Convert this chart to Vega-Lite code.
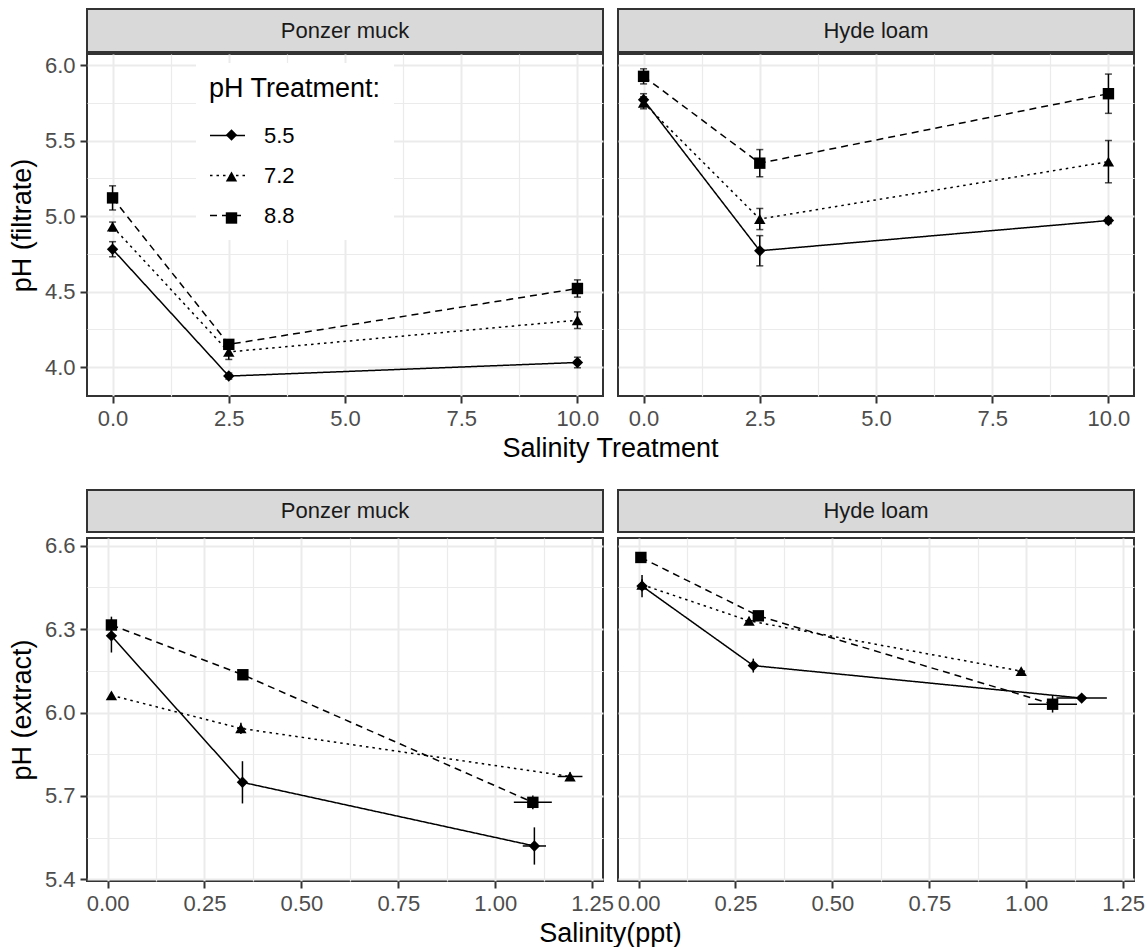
{
  "$schema": "https://vega.github.io/schema/vega-lite/v6.json",
  "autosize": {"type": "pad"},
  "padding": {"left": 7, "top": 8, "right": 5, "bottom": 5},
  "background": "white",
  "config": {
    "font": "Liberation Sans",
    "view": {"stroke": "#333333", "strokeWidth": 2},
    "axis": {
      "gridColor": "#ebebeb",
      "tickColor": "#333333",
      "tickWidth": 2,
      "tickSize": 7,
      "labelColor": "#4d4d4d",
      "labelFontSize": 22,
      "labelFont": "Liberation Sans",
      "labelPadding": 5,
      "labelFlush": false,
      "labelOverlap": false,
      "labelBound": false,
      "titleFont": "Liberation Sans",
      "titleFontSize": 27,
      "titleFontWeight": "normal",
      "titleColor": "black",
      "domain": false
    },
    "legend": {
      "orient": "none", "padding": 13,
      "titleFontSize": 27, "titleFontWeight": "normal", "titleFont": "Liberation Sans", "titlePadding": 14,
      "labelFontSize": 22, "labelFont": "Liberation Sans", "labelOffset": 18
    }
  },
  "datasets": {
    "strip": [{"soil": "Ponzer muck"}, {"soil": "Hyde loam"}],
    "top": [
      {"soil": "Ponzer muck", "pH": "5.5", "x": 0, "y": 4.78, "ylo": 4.73, "yhi": 4.83},
      {"soil": "Ponzer muck", "pH": "5.5", "x": 2.5, "y": 3.94, "ylo": 3.92, "yhi": 3.96},
      {"soil": "Ponzer muck", "pH": "5.5", "x": 10, "y": 4.03, "ylo": 3.995, "yhi": 4.065},
      {"soil": "Ponzer muck", "pH": "7.2", "x": 0, "y": 4.93, "ylo": 4.9, "yhi": 4.96},
      {"soil": "Ponzer muck", "pH": "7.2", "x": 2.5, "y": 4.1, "ylo": 4.05, "yhi": 4.15},
      {"soil": "Ponzer muck", "pH": "7.2", "x": 10, "y": 4.31, "ylo": 4.255, "yhi": 4.365},
      {"soil": "Ponzer muck", "pH": "8.8", "x": 0, "y": 5.12, "ylo": 5.04, "yhi": 5.2},
      {"soil": "Ponzer muck", "pH": "8.8", "x": 2.5, "y": 4.15, "ylo": 4.12, "yhi": 4.18},
      {"soil": "Ponzer muck", "pH": "8.8", "x": 10, "y": 4.52, "ylo": 4.463, "yhi": 4.577},
      {"soil": "Hyde loam", "pH": "5.5", "x": 0, "y": 5.77, "ylo": 5.73, "yhi": 5.81},
      {"soil": "Hyde loam", "pH": "5.5", "x": 2.5, "y": 4.77, "ylo": 4.67, "yhi": 4.87},
      {"soil": "Hyde loam", "pH": "5.5", "x": 10, "y": 4.97, "ylo": 4.95, "yhi": 4.99},
      {"soil": "Hyde loam", "pH": "7.2", "x": 0, "y": 5.75, "ylo": 5.71, "yhi": 5.79},
      {"soil": "Hyde loam", "pH": "7.2", "x": 2.5, "y": 4.98, "ylo": 4.91, "yhi": 5.05},
      {"soil": "Hyde loam", "pH": "7.2", "x": 10, "y": 5.36, "ylo": 5.22, "yhi": 5.5},
      {"soil": "Hyde loam", "pH": "8.8", "x": 0, "y": 5.925, "ylo": 5.875, "yhi": 5.975},
      {"soil": "Hyde loam", "pH": "8.8", "x": 2.5, "y": 5.35, "ylo": 5.26, "yhi": 5.44},
      {"soil": "Hyde loam", "pH": "8.8", "x": 10, "y": 5.81, "ylo": 5.68, "yhi": 5.94}
    ],
    "bot": [
      {"soil": "Ponzer muck", "pH": "5.5", "x": 0.01, "xlo": 0.005, "xhi": 0.015, "y": 6.276, "ylo": 6.216, "yhi": 6.336},
      {"soil": "Ponzer muck", "pH": "5.5", "x": 0.348, "xlo": 0.338, "xhi": 0.358, "y": 5.749, "ylo": 5.673, "yhi": 5.825},
      {"soil": "Ponzer muck", "pH": "5.5", "x": 1.101, "xlo": 1.071, "xhi": 1.131, "y": 5.52, "ylo": 5.453, "yhi": 5.587},
      {"soil": "Ponzer muck", "pH": "7.2", "x": 0.01, "xlo": 0.005, "xhi": 0.015, "y": 6.062, "ylo": 6.052, "yhi": 6.072},
      {"soil": "Ponzer muck", "pH": "7.2", "x": 0.344, "xlo": 0.334, "xhi": 0.354, "y": 5.943, "ylo": 5.923, "yhi": 5.963},
      {"soil": "Ponzer muck", "pH": "7.2", "x": 1.193, "xlo": 1.161, "xhi": 1.225, "y": 5.77, "ylo": 5.755, "yhi": 5.785},
      {"soil": "Ponzer muck", "pH": "8.8", "x": 0.01, "xlo": 0.005, "xhi": 0.015, "y": 6.315, "ylo": 6.285, "yhi": 6.345},
      {"soil": "Ponzer muck", "pH": "8.8", "x": 0.349, "xlo": 0.339, "xhi": 0.359, "y": 6.136, "ylo": 6.121, "yhi": 6.151},
      {"soil": "Ponzer muck", "pH": "8.8", "x": 1.097, "xlo": 1.048, "xhi": 1.146, "y": 5.677, "ylo": 5.652, "yhi": 5.702},
      {"soil": "Hyde loam", "pH": "5.5", "x": 0.009, "xlo": 0.004, "xhi": 0.014, "y": 6.455, "ylo": 6.415, "yhi": 6.495},
      {"soil": "Hyde loam", "pH": "5.5", "x": 0.296, "xlo": 0.286, "xhi": 0.306, "y": 6.169, "ylo": 6.144, "yhi": 6.194},
      {"soil": "Hyde loam", "pH": "5.5", "x": 1.143, "xlo": 1.078, "xhi": 1.208, "y": 6.052, "ylo": 6.037, "yhi": 6.067},
      {"soil": "Hyde loam", "pH": "7.2", "x": 0.009, "xlo": 0.004, "xhi": 0.014, "y": 6.46, "ylo": 6.44, "yhi": 6.48},
      {"soil": "Hyde loam", "pH": "7.2", "x": 0.285, "xlo": 0.275, "xhi": 0.295, "y": 6.33, "ylo": 6.315, "yhi": 6.345},
      {"soil": "Hyde loam", "pH": "7.2", "x": 0.987, "xlo": 0.977, "xhi": 0.997, "y": 6.149, "ylo": 6.139, "yhi": 6.159},
      {"soil": "Hyde loam", "pH": "8.8", "x": 0.006, "xlo": 0.001, "xhi": 0.011, "y": 6.558, "ylo": 6.548, "yhi": 6.568},
      {"soil": "Hyde loam", "pH": "8.8", "x": 0.309, "xlo": 0.299, "xhi": 0.319, "y": 6.348, "ylo": 6.338, "yhi": 6.358},
      {"soil": "Hyde loam", "pH": "8.8", "x": 1.068, "xlo": 1.005, "xhi": 1.131, "y": 6.03, "ylo": 6.0, "yhi": 6.06}
    ]
  },
  "spacing": 27,
  "resolve": {"legend": {"shape": "independent", "strokeDash": "independent"}},
  "vconcat": [
    {
      "spacing": 0,
      "resolve": {"legend": {"shape": "independent", "strokeDash": "independent"}},
      "vconcat": [
        {
          "spacing": 15,
          "bounds": "flush",
          "hconcat": [
            {"width": 516, "height": 43, "data": {"name": "strip"}, "transform": [{"filter": "datum.soil === 'Ponzer muck'"}], "view": {"fill": "#d9d9d9", "stroke": "#333333", "strokeWidth": 2}, "mark": {"type": "text", "fontSize": 22, "color": "#1a1a1a", "align": "center", "baseline": "middle"}, "encoding": {"text": {"field": "soil"}}},
            {"width": 516, "height": 43, "data": {"name": "strip"}, "transform": [{"filter": "datum.soil === 'Hyde loam'"}], "view": {"fill": "#d9d9d9", "stroke": "#333333", "strokeWidth": 2}, "mark": {"type": "text", "fontSize": 22, "color": "#1a1a1a", "align": "center", "baseline": "middle"}, "encoding": {"text": {"field": "soil"}}}
          ]
        },
        {
          "spacing": 15,
          "bounds": "flush",
          "resolve": {"legend": {"shape": "independent", "strokeDash": "independent"}},
          "hconcat": [
            {
              "width": 516, "height": 342,
              "data": {"name": "top"},
              "transform": [{"filter": "datum.soil === 'Ponzer muck'"}],
              "encoding": {
                "x": {"field": "x", "type": "quantitative", "scale": {"domain": [-0.55, 10.55], "nice": false, "zero": false},
                  "axis": {"values": [0, 1.25, 2.5, 3.75, 5, 6.25, 7.5, 8.75, 10], "labelExpr": "datum.value % 2.5 == 0 ? format(datum.value, '.1f') : ''", "gridWidth": {"condition": {"test": "datum.value % 2.5 != 0", "value": 1.2}, "value": 2}, "tickOpacity": {"condition": {"test": "datum.value % 2.5 != 0", "value": 0}, "value": 1}, "title": "Salinity Treatment", "titleX": 523, "titlePadding": 6}},
                "y": {"field": "y", "type": "quantitative", "scale": {"domain": [3.808, 6.073], "nice": false, "zero": false},
                  "axis": {"values": [4, 4.25, 4.5, 4.75, 5, 5.25, 5.5, 5.75, 6], "labelExpr": "datum.value % 0.5 == 0 ? format(datum.value, '.1f') : ''", "gridWidth": {"condition": {"test": "datum.value % 0.5 != 0", "value": 1.2}, "value": 2}, "tickOpacity": {"condition": {"test": "datum.value % 0.5 != 0", "value": 0}, "value": 1}, "title": "pH (filtrate)", "titlePadding": 8}}
              },
              "layer": [
                {"mark": {"type": "line", "color": "black", "strokeWidth": 1.5},
                  "encoding": {"strokeDash": {"field": "pH", "type": "nominal", "scale": {"range": [[1, 0], [2.5, 4], [7, 5]]},
                    "legend": {"title": "pH Treatment:", "legendX": 109, "legendY": 9, "fillColor": "white", "titleColor": "black", "labelColor": "black", "symbolType": "stroke", "symbolSize": 1225, "symbolStrokeWidth": 1.5, "symbolStrokeColor": "black", "rowPadding": 10}}}},
                {"mark": {"type": "rule", "color": "black", "strokeWidth": 1.5},
                  "encoding": {"y": {"field": "ylo", "type": "quantitative", "scale": {"domain": [3.808, 6.073], "nice": false, "zero": false}}, "y2": {"field": "yhi"}}},
                {"mark": {"type": "tick", "orient": "horizontal", "color": "black", "thickness": 1.5, "size": 7},
                  "encoding": {"y": {"field": "ylo", "type": "quantitative", "scale": {"domain": [3.808, 6.073], "nice": false, "zero": false}}}},
                {"mark": {"type": "tick", "orient": "horizontal", "color": "black", "thickness": 1.5, "size": 7},
                  "encoding": {"y": {"field": "yhi", "type": "quantitative", "scale": {"domain": [3.808, 6.073], "nice": false, "zero": false}}}},
                {"mark": {"type": "point", "filled": true, "color": "black", "opacity": 1, "size": 130},
                  "encoding": {"shape": {"field": "pH", "type": "nominal", "scale": {"domain": ["5.5", "7.2", "8.8"], "range": ["diamond", "triangle-up", "square"]},
                    "legend": {"title": "pH Treatment:", "legendX": 120.5, "legendY": 16, "titleColor": "transparent", "labelColor": "transparent", "symbolSize": 130, "symbolFillColor": "black", "symbolStrokeColor": "black", "symbolStrokeWidth": 0, "rowPadding": 19.5}}}}
              ]
            },
            {
              "width": 516, "height": 342,
              "data": {"name": "top"},
              "transform": [{"filter": "datum.soil === 'Hyde loam'"}],
              "encoding": {
                "x": {"field": "x", "type": "quantitative", "scale": {"domain": [-0.55, 10.55], "nice": false, "zero": false},
                  "axis": {"values": [0, 1.25, 2.5, 3.75, 5, 6.25, 7.5, 8.75, 10], "labelExpr": "datum.value % 2.5 == 0 ? format(datum.value, '.1f') : ''", "gridWidth": {"condition": {"test": "datum.value % 2.5 != 0", "value": 1.2}, "value": 2}, "tickOpacity": {"condition": {"test": "datum.value % 2.5 != 0", "value": 0}, "value": 1}, "title": null}},
                "y": {"field": "y", "type": "quantitative", "scale": {"domain": [3.808, 6.073], "nice": false, "zero": false},
                  "axis": {"values": [4, 4.25, 4.5, 4.75, 5, 5.25, 5.5, 5.75, 6], "labels": false, "ticks": false, "gridWidth": {"condition": {"test": "datum.value % 0.5 != 0", "value": 1.2}, "value": 2}, "title": null}}
              },
              "layer": [
                {"mark": {"type": "line", "color": "black", "strokeWidth": 1.5},
                  "encoding": {"strokeDash": {"field": "pH", "type": "nominal", "scale": {"range": [[1, 0], [2.5, 4], [7, 5]]}, "legend": null}}},
                {"mark": {"type": "rule", "color": "black", "strokeWidth": 1.5},
                  "encoding": {"y": {"field": "ylo", "type": "quantitative", "scale": {"domain": [3.808, 6.073], "nice": false, "zero": false}}, "y2": {"field": "yhi"}}},
                {"mark": {"type": "tick", "orient": "horizontal", "color": "black", "thickness": 1.5, "size": 7},
                  "encoding": {"y": {"field": "ylo", "type": "quantitative", "scale": {"domain": [3.808, 6.073], "nice": false, "zero": false}}}},
                {"mark": {"type": "tick", "orient": "horizontal", "color": "black", "thickness": 1.5, "size": 7},
                  "encoding": {"y": {"field": "yhi", "type": "quantitative", "scale": {"domain": [3.808, 6.073], "nice": false, "zero": false}}}},
                {"mark": {"type": "point", "filled": true, "color": "black", "opacity": 1, "size": 130},
                  "encoding": {"shape": {"field": "pH", "type": "nominal", "scale": {"domain": ["5.5", "7.2", "8.8"], "range": ["diamond", "triangle-up", "square"]}, "legend": null}}}
              ]
            }
          ]
        }
      ]
    },
    {
      "spacing": 0,
      "resolve": {"legend": {"shape": "independent", "strokeDash": "independent"}},
      "vconcat": [
        {
          "spacing": 15,
          "bounds": "flush",
          "hconcat": [
            {"width": 516, "height": 42, "data": {"name": "strip"}, "transform": [{"filter": "datum.soil === 'Ponzer muck'"}], "view": {"fill": "#d9d9d9", "stroke": "#333333", "strokeWidth": 2}, "mark": {"type": "text", "fontSize": 22, "color": "#1a1a1a", "align": "center", "baseline": "middle"}, "encoding": {"text": {"field": "soil"}}},
            {"width": 516, "height": 42, "data": {"name": "strip"}, "transform": [{"filter": "datum.soil === 'Hyde loam'"}], "view": {"fill": "#d9d9d9", "stroke": "#333333", "strokeWidth": 2}, "mark": {"type": "text", "fontSize": 22, "color": "#1a1a1a", "align": "center", "baseline": "middle"}, "encoding": {"text": {"field": "soil"}}}
          ]
        },
        {
          "spacing": 15,
          "bounds": "flush",
          "resolve": {"legend": {"shape": "independent", "strokeDash": "independent"}},
          "hconcat": [
            {
              "width": 516, "height": 343,
              "data": {"name": "bot"},
              "transform": [{"filter": "datum.soil === 'Ponzer muck'"}],
              "encoding": {
                "x": {"field": "x", "type": "quantitative", "scale": {"domain": [-0.053, 1.278], "nice": false, "zero": false},
                  "axis": {"values": [0, 0.125, 0.25, 0.375, 0.5, 0.625, 0.75, 0.875, 1, 1.125, 1.25], "labelExpr": "round(datum.value * 8) % 2 == 0 ? format(datum.value, '.2f') : ''", "gridWidth": {"condition": {"test": "round(datum.value * 8) % 2 == 1", "value": 1.2}, "value": 2}, "tickOpacity": {"condition": {"test": "round(datum.value * 8) % 2 == 1", "value": 0}, "value": 1}, "title": "Salinity(ppt)", "titleX": 523, "titlePadding": 6}},
                "y": {"field": "y", "type": "quantitative", "scale": {"domain": [5.394, 6.628], "nice": false, "zero": false},
                  "axis": {"values": [5.4, 5.55, 5.7, 5.85, 6.0, 6.15, 6.3, 6.45, 6.6], "labelExpr": "round((datum.value - 5.4) / 0.15) % 2 == 0 ? format(datum.value, '.1f') : ''", "gridWidth": {"condition": {"test": "round((datum.value - 5.4) / 0.15) % 2 == 1", "value": 1.2}, "value": 2}, "tickOpacity": {"condition": {"test": "round((datum.value - 5.4) / 0.15) % 2 == 1", "value": 0}, "value": 1}, "title": "pH (extract)", "titlePadding": 8}}
              },
              "layer": [
                {"mark": {"type": "line", "color": "black", "strokeWidth": 1.5},
                  "encoding": {"strokeDash": {"field": "pH", "type": "nominal", "scale": {"range": [[1, 0], [2.5, 4], [7, 5]]}, "legend": null}}},
                {"mark": {"type": "rule", "color": "black", "strokeWidth": 1.5},
                  "encoding": {"y": {"field": "ylo", "type": "quantitative", "scale": {"domain": [5.394, 6.628], "nice": false, "zero": false}}, "y2": {"field": "yhi"}}},
                {"mark": {"type": "rule", "color": "black", "strokeWidth": 1.5},
                  "encoding": {"x": {"field": "xlo", "type": "quantitative", "scale": {"domain": [-0.053, 1.278], "nice": false, "zero": false}}, "x2": {"field": "xhi"}}},
                {"mark": {"type": "point", "filled": true, "color": "black", "opacity": 1, "size": 130},
                  "encoding": {"shape": {"field": "pH", "type": "nominal", "scale": {"domain": ["5.5", "7.2", "8.8"], "range": ["diamond", "triangle-up", "square"]}, "legend": null}}}
              ]
            },
            {
              "width": 516, "height": 343,
              "data": {"name": "bot"},
              "transform": [{"filter": "datum.soil === 'Hyde loam'"}],
              "encoding": {
                "x": {"field": "x", "type": "quantitative", "scale": {"domain": [-0.053, 1.278], "nice": false, "zero": false},
                  "axis": {"values": [0, 0.125, 0.25, 0.375, 0.5, 0.625, 0.75, 0.875, 1, 1.125, 1.25], "labelExpr": "round(datum.value * 8) % 2 == 0 ? format(datum.value, '.2f') : ''", "gridWidth": {"condition": {"test": "round(datum.value * 8) % 2 == 1", "value": 1.2}, "value": 2}, "tickOpacity": {"condition": {"test": "round(datum.value * 8) % 2 == 1", "value": 0}, "value": 1}, "title": null}},
                "y": {"field": "y", "type": "quantitative", "scale": {"domain": [5.394, 6.628], "nice": false, "zero": false},
                  "axis": {"values": [5.4, 5.55, 5.7, 5.85, 6.0, 6.15, 6.3, 6.45, 6.6], "labels": false, "ticks": false, "gridWidth": {"condition": {"test": "round((datum.value - 5.4) / 0.15) % 2 == 1", "value": 1.2}, "value": 2}, "title": null}}
              },
              "layer": [
                {"mark": {"type": "line", "color": "black", "strokeWidth": 1.5},
                  "encoding": {"strokeDash": {"field": "pH", "type": "nominal", "scale": {"range": [[1, 0], [2.5, 4], [7, 5]]}, "legend": null}}},
                {"mark": {"type": "rule", "color": "black", "strokeWidth": 1.5},
                  "encoding": {"y": {"field": "ylo", "type": "quantitative", "scale": {"domain": [5.394, 6.628], "nice": false, "zero": false}}, "y2": {"field": "yhi"}}},
                {"mark": {"type": "rule", "color": "black", "strokeWidth": 1.5},
                  "encoding": {"x": {"field": "xlo", "type": "quantitative", "scale": {"domain": [-0.053, 1.278], "nice": false, "zero": false}}, "x2": {"field": "xhi"}}},
                {"mark": {"type": "point", "filled": true, "color": "black", "opacity": 1, "size": 130},
                  "encoding": {"shape": {"field": "pH", "type": "nominal", "scale": {"domain": ["5.5", "7.2", "8.8"], "range": ["diamond", "triangle-up", "square"]}, "legend": null}}}
              ]
            }
          ]
        }
      ]
    }
  ]
}
